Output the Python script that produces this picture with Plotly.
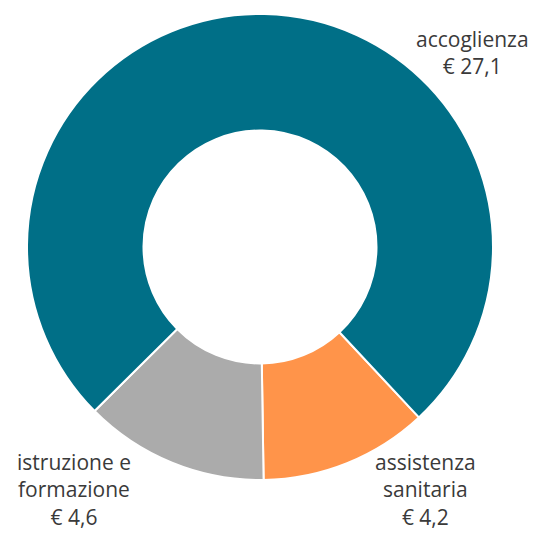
import plotly.graph_objects as go

W, H = 546, 534
OFF = 8  # page body margin offset
categories = ["assistenza sanitaria", "istruzione e formazione", "accoglienza"]
values = [4.2, 4.6, 27.1]
colors = ["#FF944A", "#ABABAB", "#006F87"]
label_texts = ["assistenza<br>sanitaria<br>€ 4,2",
               "istruzione e<br>formazione<br>€ 4,6",
               "accoglienza<br>€ 27,1"]

cx, cy, r = 260 - OFF, 247 - OFF, 233

fig = go.Figure(go.Pie(
    labels=categories,
    values=values,
    hole=0.5,
    sort=False,
    direction="clockwise",
    rotation=137,
    marker=dict(colors=colors, line=dict(color="white", width=2)),
    textinfo="none",
    hoverinfo="label+value",
    domain=dict(x=[(cx - r) / W, (cx + r) / W], y=[1 - (cy + r) / H, 1 - (cy - r) / H]),
    showlegend=False,
))

# (center x, middle y) of each label block, in page pixels
label_pos = [(426, 489), (74, 489), (472, 53)]
for t, (px, py) in zip(label_texts, label_pos):
    fig.add_annotation(x=(px - OFF) / W, y=1 - (py - OFF) / H, xref="paper", yref="paper",
                       text=t, showarrow=False, xanchor="center", yanchor="middle",
                       align="center", borderpad=0,
                       font=dict(family="Open Sans", size=21, color="#3a3a3a"))

fig.update_layout(width=W, height=H, margin=dict(l=0, r=0, t=0, b=0),
                  paper_bgcolor="white", plot_bgcolor="white")
fig.write_html("out.html")
